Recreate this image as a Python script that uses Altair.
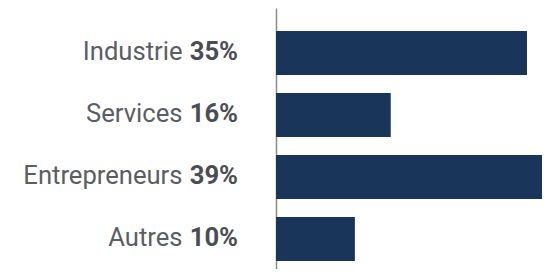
import altair as alt
import pandas as pd

categories = ["Industrie", "Services", "Entrepreneurs", "Autres"]
bar_values = [35, 16, 39, 11]
pct_labels = ["35%", "16%", "39%", "10%"]

df = pd.DataFrame({"cat": categories, "val": bar_values, "pct": pct_labels})

# plot height 261: step 62, bar 44, first bar starts 23px below top, last ends 8px above bottom
y_enc = alt.Y(
    "cat:N",
    sort=categories,
    title=None,
    scale=alt.Scale(paddingInner=0.2903, paddingOuter=0.25, align=0.742),
    axis=alt.Axis(
        ticks=False,
        tickSize=0,
        grid=False,
        domain=True,
        domainColor="#8a8a8a",
        domainWidth=1.5,
        labelFont="Roboto",
        labelFontSize=25.6,
        labelColor="#5a5e64",
        labelPadding=94,
        labelAlign="right",
        labelBaseline="middle",
        labelOffset=-1,
    ),
)

bars = alt.Chart(df).mark_bar(color="#19355A").encode(
    x=alt.X("val:Q", scale=alt.Scale(domain=[0, 37.09], clamp=True, nice=False), axis=None),
    y=y_enc,
)

pcts = alt.Chart(df).mark_text(
    align="right", baseline="middle", font="Roboto", fontSize=25.6,
    fontWeight="bold", color="#4a4e54", dy=-1,
).encode(
    x=alt.value(-38),
    y=alt.Y("cat:N", sort=categories),
    text="pct:N",
)

chart = alt.layer(bars, pcts).properties(
    width=266,
    height=261,
    autosize=alt.AutoSizeParams(type="none"),
    padding={"left": 268, "top": 0, "right": 0, "bottom": 0},
).configure_view(stroke=None)

chart.save("out.html", embed_options={"renderer": "svg", "actions": False})
